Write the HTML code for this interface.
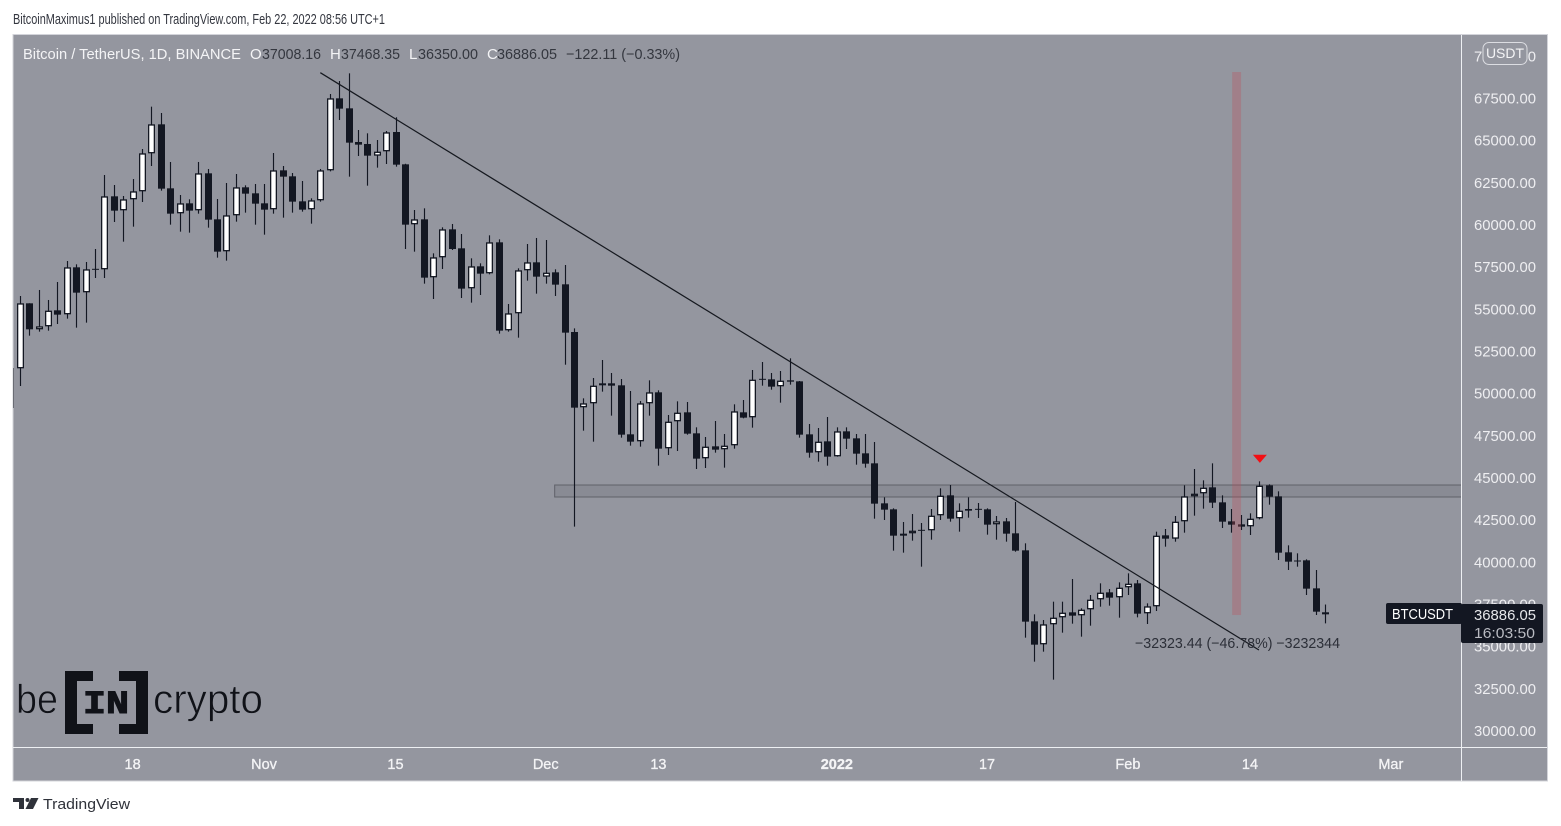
<!DOCTYPE html>
<html lang="en">
<head>
<meta charset="utf-8">
<title>BTCUSDT daily chart</title>
<style>
html,body{margin:0;padding:0;background:#fff;width:1561px;height:826px;overflow:hidden}
svg{display:block;font-family:"Liberation Sans",sans-serif}
</style>
</head>
<body>
<svg id="chart" width="1561" height="826" viewBox="0 0 1561 826" xmlns="http://www.w3.org/2000/svg">
  <defs>
    <clipPath id="pane-clip"><rect x="14" y="35" width="1447" height="712"></rect></clipPath>
  </defs>
  <text x="13" y="24" font-size="14.5" fill="#33363f" textLength="372" lengthAdjust="spacingAndGlyphs">BitcoinMaximus1 published on TradingView.com, Feb 22, 2022 08:56 UTC+1</text>
  <rect x="13" y="34.5" width="1534.5" height="746.5" fill="#94969f" stroke="#d3d4da" stroke-width="1"></rect>
  <line x1="1461.5" y1="35" x2="1461.5" y2="781" stroke="#eef0f3" stroke-width="1"></line>
  <line x1="13" y1="747.5" x2="1547" y2="747.5" stroke="#eef0f3" stroke-width="1"></line>
  <rect x="13" y="368" width="1" height="40" fill="#6a6c74"></rect>

  <g id="drawings-under" clip-path="url(#pane-clip)"></g>
  <g id="candles" clip-path="url(#pane-clip)"></g>
  <g id="drawings-over" clip-path="url(#pane-clip)"></g>
  <g id="price-axis"></g>
  <g id="time-axis"></g>

  <g font-size="15">
    <text x="23" y="59" fill="#f4f4f6" textLength="218" lengthAdjust="spacingAndGlyphs">Bitcoin / TetherUS, 1D, BINANCE</text>
    <text x="250" y="59" fill="#f4f4f6">O</text>
    <text x="262" y="59" fill="#34373f" textLength="59" lengthAdjust="spacingAndGlyphs">37008.16</text>
    <text x="330" y="59" fill="#f4f4f6">H</text>
    <text x="341" y="59" fill="#34373f" textLength="59" lengthAdjust="spacingAndGlyphs">37468.35</text>
    <text x="409" y="59" fill="#f4f4f6">L</text>
    <text x="418" y="59" fill="#34373f" textLength="60" lengthAdjust="spacingAndGlyphs">36350.00</text>
    <text x="487" y="59" fill="#f4f4f6">C</text>
    <text x="497" y="59" fill="#34373f" textLength="60" lengthAdjust="spacingAndGlyphs">36886.05</text>
    <text x="566" y="59" fill="#34373f" textLength="114" lengthAdjust="spacingAndGlyphs">−122.11 (−0.33%)</text>
  </g>

  <g>
    <rect x="1483" y="42.5" width="44" height="22" rx="6" fill="#94969f" stroke="#dcdde2" stroke-width="1"></rect>
    <text x="1505" y="58" font-size="14" text-anchor="middle" fill="#f4f4f6">USDT</text>
  </g>

  <text x="1135" y="648" font-size="14.5" fill="#2c2f38" textLength="205" lengthAdjust="spacingAndGlyphs">−32323.44 (−46.78%) −3232344</text>

  <g>
    <rect x="1386" y="603" width="76" height="21" rx="2" fill="#131722"></rect>
    <text x="1392" y="619" font-size="14.5" fill="#fff" textLength="61" lengthAdjust="spacingAndGlyphs">BTCUSDT</text>
    <rect x="1461" y="604" width="82" height="39" rx="2" fill="#131722"></rect>
    <text x="1474" y="620" font-size="14.8" fill="#e6e7ea" textLength="62" lengthAdjust="spacingAndGlyphs">36886.05</text>
    <text x="1474" y="638" font-size="14.8" fill="#b9bbc2" textLength="61" lengthAdjust="spacingAndGlyphs">16:03:50</text>
  </g>

  <g fill="#101218">
    <text x="16" y="713" font-size="41" stroke="#94969f" stroke-width="0.7" textLength="42" lengthAdjust="spacingAndGlyphs">be</text>
    <path d="M65 671H93V681H77V724H93V734H65Z"></path>
    <path d="M119 671H148V734H119V724H136V681H119Z"></path>
    <text x="83" y="713" font-size="32" font-weight="700" font-family="'Liberation Mono',monospace" stroke="#101218" stroke-width="1" textLength="46" lengthAdjust="spacingAndGlyphs">IN</text>
    <text x="153" y="713" font-size="41" stroke="#94969f" stroke-width="0.7" textLength="110" lengthAdjust="spacingAndGlyphs">crypto</text>
  </g>

  <g fill="#2f323a">
    <path d="M13 798H24V809H19V802H13Z M31 798H38.5L33 809H25.5Z"></path>
    <circle cx="27.5" cy="800" r="2"></circle>
    <text x="43" y="809" font-size="15" textLength="87" lengthAdjust="spacingAndGlyphs">TradingView</text>
  </g>
</svg>

<script>
// Daily candles from 6 Oct 2021 to 22 Feb 2022.
const opens = [
51472,55326,53784,53962,54911,54674,57460,55978,57342,57342,61670,60840,61492,61966,64219,65939,62144,60662,61255,60840,63034,60306,58409,60543,62204,61848,
61255,60899,63211,62856,61373,60899,61433,63211,67480,66887,64891,64773,64081,64338,65484,63567,60010,60306,56867,58053,59713,58587,56215,57520,57105,58943,53725,54733,57283,57757,
56907,57164,56453,53626,49160,49397,50464,50583,50464,47559,47144,49397,50049,46729,48330,48863,47618,46136,46847,46670,46907,48863,48567,50820,50820,50405,50761,50700,47558,46491,47143,
46254,47736,47321,46432,45839,43467,43112,41550,41689,41867,41867,42756,43942,42578,43132,43112,43112,42222,42400,41689,40681,36471,35107,36294,36708,37005,36827,37182,37775,38190,37894,
38487,38724,36945,37360,41570,41372,42400,43882,44060,44416,43526,42400,42222,42103,42578,44534,43882,40562,40048,40088,38427,37008];
const highs = [
55761,55330,56117,55524,56591,57836,57638,57777,58547,62935,62342,61690,62698,64476,66986,66611,63706,61749,61492,63706,63291,61512,62460,62994,62322,62401,
62401,64239,63468,63053,62579,61551,63291,67737,68508,68962,65603,65405,65010,65543,66354,63600,60860,60958,58290,59832,60030,59437,57994,57698,59358,59121,55286,57401,58844,59200,
59081,57342,57599,53843,49693,50899,51966,51195,50840,50128,49535,50760,50168,48705,49515,49476,47974,47401,48349,47579,49338,49594,51373,51847,51195,51314,52065,50720,48171,47934,48586,
47973,47973,47578,47578,47104,43823,43171,42361,42835,42301,43132,44357,44554,43467,43823,43487,43171,42717,42598,43547,41096,36886,36550,37637,37637,38981,37242,38032,38724,38388,38783,
39317,38922,37538,41787,41945,42716,44534,45503,44831,45839,43941,43131,42775,42874,44771,44594,44179,40977,40503,40147,39514,37468];
const lows = [
50424,53409,53646,53705,54101,54417,53883,54180,56828,56828,60148,58982,59871,61334,63468,62006,59990,59575,59516,60642,59812,58034,57856,60168,60702,59990,
59397,60642,60405,60702,60761,60049,61354,63150,66196,62836,64061,62302,63370,63587,63429,58547,58389,56492,55583,57362,58488,55642,55366,55820,57045,53528,53646,53290,56670,55899,
56492,55761,51687,42084,47776,47124,50089,48666,47361,46887,46828,48666,45701,46334,46571,47539,45503,45563,46472,45583,46709,48507,47954,50444,50207,49436,50504,47361,46175,45938,45701,
46234,46689,45760,45582,42558,42479,40661,40543,41254,39712,41313,42479,42381,41788,42618,42598,41610,41313,41195,40601,35503,34080,34673,33013,35799,36333,35562,36214,37340,37400,36688,
38032,36708,36313,37084,40898,41194,41728,42736,43151,43190,42005,41728,41886,41590,42518,43388,40107,39514,39712,38032,36846,36350];
const closes = [
55326,53784,53962,54891,54654,57460,55958,57342,57342,61670,60820,61492,61966,64219,65939,62124,60642,61255,60820,63034,60287,58389,60543,62204,61828,61235,
60879,63211,62836,61354,60879,61433,63211,67480,66868,64852,64733,64081,64318,65464,63547,59990,60306,56848,58053,59713,58547,56196,57520,57085,58943,53705,54733,57283,57757,56907,
57144,56433,53587,49140,49397,50444,50583,50444,47539,47124,49397,50049,46709,48310,48843,47598,46116,46828,46650,46887,48922,48547,50800,50820,50385,50741,50681,47539,46471,47124,46234,
47736,47301,46412,45819,43448,43092,41550,41669,41847,41867,42736,43922,42558,43033,43033,43112,42203,42400,41669,40661,36452,35088,36294,36689,36985,36807,37163,37756,38171,37874,38467,
38704,36925,37360,41550,41372,42380,43882,44040,44396,43507,42380,42202,42084,42558,44514,43862,40542,40009,40048,38408,37044,36886];

// Axis labels.
const priceTicks = [70000,67500,65000,62500,60000,57500,55000,52500,50000,47500,45000,42500,40000,37500,35000,32500,30000];
const timeTickLabels = ['18','Nov','15','Dec','13','2022','17','Feb','14','Mar'];
const timeTickBars = [12,26,40,56,68,87,103,118,131,146];
const timeTickBold = [false,false,false,false,false,true,false,false,false,false];

// Drawing anchors as [bar index, price].
const trendStart = [31.94, 69000];
const trendEnd = [131.9, 34770];
const zoneBars = [56.9, 160];
const zonePrices = [44554, 43843];
const bandBars = [129.05, 130.0];
const bandPrices = [69041, 36846];
const arrowBar = 132;
const arrowPrices = [46350, 45880];

// Axis functions.
const barOrigin = 20.4;
const barStep = 9.39;
const pricePerPixel = 59.29;
const priceAtZero = 73310;
function xExact(i){ return barOrigin + i * barStep; }
function xBar(i){ return Math.floor(xExact(i)) + 0.5; }
function yPrice(p){ return (priceAtZero - p) / pricePerPixel; }

const NS = 'http://www.w3.org/2000/svg';
function make(tag, parent){
  const el = document.createElementNS(NS, tag);
  parent.appendChild(el);
  return el;
}

const under = document.getElementById('drawings-under');
const candleLayer = document.getElementById('candles');
const over = document.getElementById('drawings-over');
const priceAxis = document.getElementById('price-axis');
const timeAxis = document.getElementById('time-axis');

// Resistance zone
const zone = make('rect', under);


zone.setAttribute('x', xExact(zoneBars[0]));
zone.setAttribute('y', yPrice(zonePrices[0]));
zone.setAttribute('width', xExact(zoneBars[1]) - xExact(zoneBars[0]));
zone.setAttribute('height', yPrice(zonePrices[1]) - yPrice(zonePrices[0]));
zone.setAttribute('fill', 'rgba(60,62,70,0.12)');
zone.setAttribute('stroke', '#5f6169');
zone.setAttribute('stroke-width', '1');

// Candles
opens.forEach(function(open, i){
  const close = closes[i];
  const x = xBar(i);
  const wick = make('line', candleLayer);
  
  
  wick.setAttribute('x1', x);
  wick.setAttribute('x2', x);
  wick.setAttribute('y1', yPrice(highs[i]));
  wick.setAttribute('y2', yPrice(lows[i]));
  wick.setAttribute('stroke', '#131722');
  wick.setAttribute('stroke-width', '1.15');

  const top = yPrice(Math.max(open, close));
  const bottom = yPrice(Math.min(open, close));
  const left = x - 3.5;
  const body = make('rect', candleLayer);
  
  
  if (close > open) {
    body.setAttribute('x', left + 0.65);
    body.setAttribute('y', top + 0.65);
    body.setAttribute('width', 5.7);
    body.setAttribute('height', Math.max(bottom - top - 1.3, 0.6));
    body.setAttribute('fill', '#ffffff');
    body.setAttribute('stroke', '#131722');
    body.setAttribute('stroke-width', '1.3');
  } else {
    body.setAttribute('x', left);
    body.setAttribute('y', close === open ? top - 0.5 : top);
    body.setAttribute('width', 7);
    body.setAttribute('height', Math.max(bottom - top, 1));
    body.setAttribute('fill', '#131722');
  }
});

// Vertical red band
const band = make('rect', over);


band.setAttribute('x', xExact(bandBars[0]));
band.setAttribute('y', yPrice(bandPrices[0]));
band.setAttribute('width', xExact(bandBars[1]) - xExact(bandBars[0]));
band.setAttribute('height', yPrice(bandPrices[1]) - yPrice(bandPrices[0]));
band.setAttribute('fill', 'rgba(190,80,90,0.32)');

// Descending trend line
const trend = make('line', over);


trend.setAttribute('x1', xExact(trendStart[0]));
trend.setAttribute('y1', yPrice(trendStart[1]));
trend.setAttribute('x2', xExact(trendEnd[0]));
trend.setAttribute('y2', yPrice(trendEnd[1]));
trend.setAttribute('stroke', '#15181f');
trend.setAttribute('stroke-width', '1.2');

// Red arrow marker
const arrow = make('polygon', over);


const ax = xExact(arrowBar);
const aTop = yPrice(arrowPrices[0]);
const aBot = yPrice(arrowPrices[1]);
arrow.setAttribute('points', (ax - 7) + ',' + aTop + ' ' + (ax + 7) + ',' + aTop + ' ' + ax + ',' + (aBot + 0.2));
arrow.setAttribute('fill', '#f20f14');

// Price axis labels
priceTicks.forEach(function(p){
  const label = make('text', priceAxis);
  
  
  label.setAttribute('x', 1474);
  label.setAttribute('y', yPrice(p) + 5.5);
  label.setAttribute('font-size', '14.8');
  label.setAttribute('fill', '#eeeef1');
  label.setAttribute('textLength', '62');
  label.setAttribute('lengthAdjust', 'spacingAndGlyphs');
  label.textContent = p.toFixed(2);
});

// Time axis labels
timeTickLabels.forEach(function(text, i){
  const label = make('text', timeAxis);
  
  
  label.setAttribute('x', xExact(timeTickBars[i]) - 0.5);
  label.setAttribute('y', 769);
  label.setAttribute('font-size', '14.5');
  label.setAttribute('text-anchor', 'middle');
  label.setAttribute('fill', '#f4f4f6');
  label.setAttribute('stroke', '#f4f4f6');
  label.setAttribute('stroke-width', '0.3');
  label.setAttribute('font-weight', timeTickBold[i] ? '700' : '400');
  label.textContent = text;
});
</script>
</body>
</html>
